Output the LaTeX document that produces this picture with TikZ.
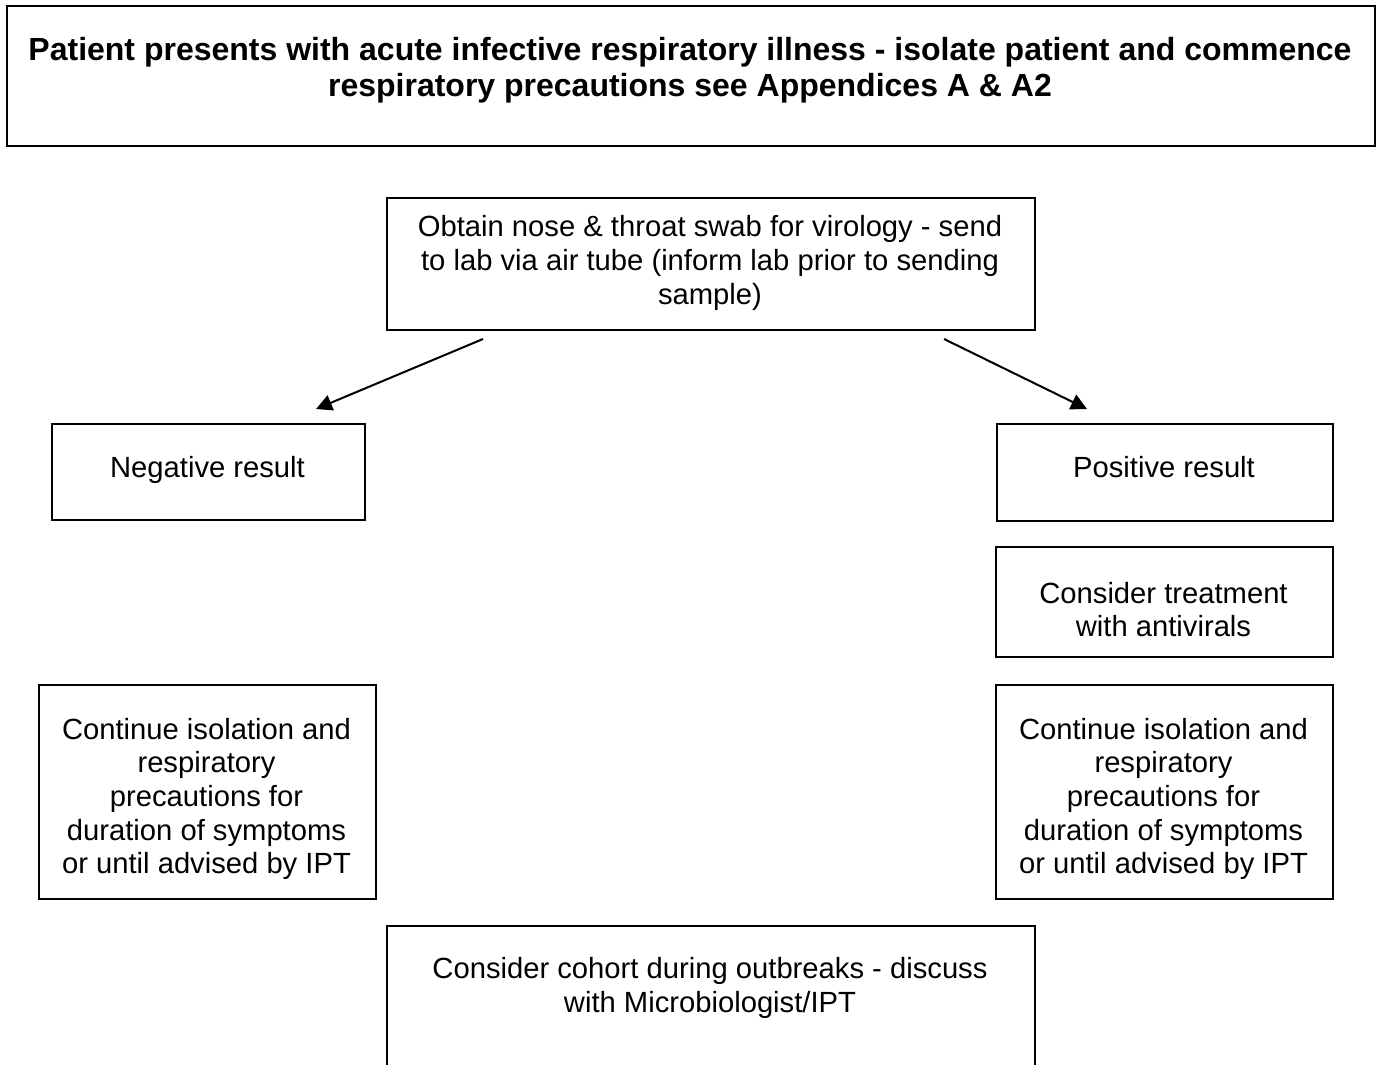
\documentclass[tikz,border=0pt]{standalone}
\usepackage{fontspec}
\setmainfont{Liberation Sans}
\usetikzlibrary{arrows.meta,calc}
\begin{document}
\begin{tikzpicture}[x=0.5pt,y=-0.5pt,
  box/.style={draw=black, line width=1pt, rectangle, inner sep=0pt, anchor=north west},
  txt/.style={align=center, font=\fontsize{14.6pt}{16.8pt}\selectfont, inner sep=0pt},
  ttl/.style={align=center, font=\bfseries\fontsize{16pt}{18.2pt}\selectfont, inner sep=0pt},
  arr/.style={line width=1pt, -{Triangle[length=8pt,width=8pt]}}]
\useasboundingbox (0,0) rectangle (1378,1065);
\clip (0,0) rectangle (1378,1065);
\fill[white] (0,0) rectangle (1378,1065);

% boxes
\node[box, minimum width=684pt, minimum height=70pt] (top) at (6,5) {};
\node[box, minimum width=324pt, minimum height=66pt] (obtain) at (386,197) {};
\node[box, minimum width=156.5pt, minimum height=48pt] (neg) at (51,423) {};
\node[box, minimum width=168pt, minimum height=48.5pt] (pos) at (996,423) {};
\node[box, minimum width=168.5pt, minimum height=55pt] (treat) at (995,546) {};
\node[box, minimum width=168.5pt, minimum height=107pt] (contl) at (38,684) {};
\node[box, minimum width=168.5pt, minimum height=107pt] (contr) at (995,684) {};
\node[box, minimum width=324pt, minimum height=77.5pt] (cohort) at (386,925) {};

% texts
\node[ttl] (topT) at (690,70) {Patient presents with acute infective respiratory illness - isolate patient and commence\\respiratory precautions see Appendices A \& A2};
\node[txt] (obtainT) at (710,263) {Obtain nose \& throat swab for virology - send\\to lab via air tube (inform lab prior to sending\\sample)};
\node[txt, anchor=base] (negT) at (207.5,477) {Negative result};
\node[txt, anchor=base] (posT) at (1164,477) {Positive result};
\node[txt] (treatT) at (1163.5,609.5) {Consider treatment\\with antivirals};
\node[txt] (contlT) at (206.5,799) {Continue isolation and\\respiratory\\precautions for\\duration of symptoms\\or until advised by IPT};
\node[txt] (contrT) at (1163.5,799) {Continue isolation and\\respiratory\\precautions for\\duration of symptoms\\or until advised by IPT};
\node[txt] (cohortT) at (710,988) {Consider cohort during outbreaks - discuss\\with Microbiologist/IPT};

% connectors
\coordinate (a1s) at ($(obtain.south west)+(97,8)$);
\coordinate (a1e) at ($(neg.north)+(107.5,-14)$);
\coordinate (a2s) at ($(obtain.south east)+(-92,8)$);
\coordinate (a2e) at ($(pos.north)+(-78,-14)$);
\draw[arr] (a1s) -- (a1e);
\draw[arr] (a2s) -- (a2e);
\end{tikzpicture}
\end{document}
